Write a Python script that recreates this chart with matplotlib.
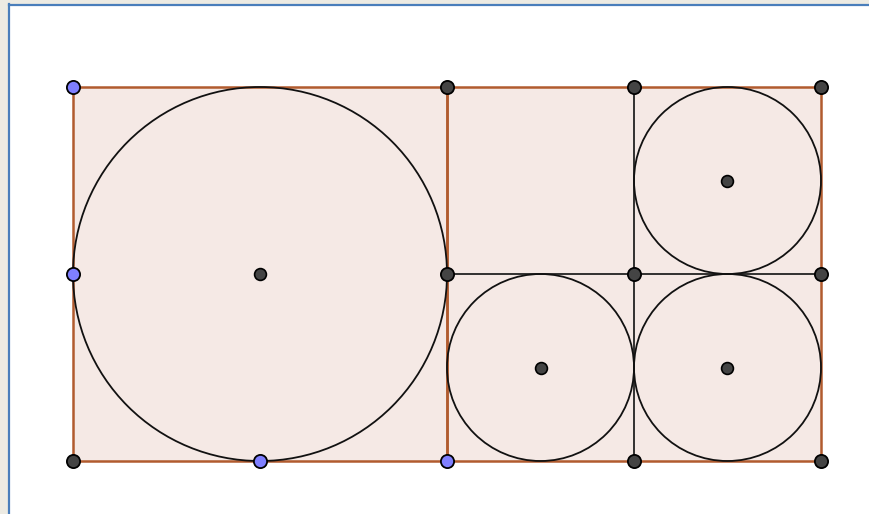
import matplotlib.pyplot as plt
from matplotlib.patches import Circle, Polygon, Rectangle

# geometry (unit = side of small square)
square_left = [(0, 0), (2, 0), (2, 2), (0, 2)]
square_right = [(2, 0), (4, 0), (4, 2), (2, 2)]
inner_lines = [((3, 0), (3, 2)), ((2, 1), (4, 1))]
circle_centers = [(1, 1), (2.5, 0.5), (3.5, 0.5), (3.5, 1.5)]
circle_radii = [1, 0.5, 0.5, 0.5]
free_points = [(0, 2), (0, 1), (1, 0), (2, 0)]
fixed_points = [(0, 0), (2, 2), (3, 2), (4, 2), (2, 1), (3, 1), (4, 1), (3, 0), (4, 0)]

W, H = 869, 514
fig = plt.figure(figsize=(W / 100, H / 100), dpi=100)
fig.patch.set_facecolor('white')

# window frame
fig.patches.append(Rectangle((0, 0), 8 / W, 1, transform=fig.transFigure, color='#edebe3', zorder=0))
fig.patches.append(Rectangle((0, 1 - 4 / H), 1, 4 / H, transform=fig.transFigure, color='#edebe3', zorder=0))
fig.lines.append(plt.Line2D([8.5 / W, 8.5 / W], [0, 1 - 4 / H], transform=fig.transFigure, color='#4a7ebb', lw=1.6))
fig.lines.append(plt.Line2D([8.5 / W, 1], [1 - 4.5 / H, 1 - 4.5 / H], transform=fig.transFigure, color='#4a7ebb', lw=1.6))

ax = fig.add_axes([0, 0, 1, 1])
ax.set_axis_off()
u = 187.0
ax.set_xlim(-73 / u, (W - 73) / u)
ax.set_ylim((461 - H) / u, 461 / u)

fill = '#f5e9e5'
edge = '#b15b2e'
for sq in [square_left, square_right]:
    ax.add_patch(Polygon(sq, closed=True, facecolor=fill, edgecolor='none', zorder=1))

for (a, b) in inner_lines:
    ax.plot([a[0], b[0]], [a[1], b[1]], color='#222222', lw=1.3, zorder=2)

for c, r in zip(circle_centers, circle_radii):
    ax.add_patch(Circle(c, r, fill=False, edgecolor='#111111', lw=1.3, zorder=3))

# brown polygon edges
for sq in [square_left, square_right]:
    ax.add_patch(Polygon(sq, closed=True, fill=False, edgecolor=edge, lw=1.8, zorder=2))

ax.plot([p[0] for p in fixed_points], [p[1] for p in fixed_points], 'o', ms=9.5,
        mfc='#444444', mec='black', mew=1.3, zorder=5)
ax.plot([p[0] for p in free_points], [p[1] for p in free_points], 'o', ms=9.5,
        mfc='#7f7fff', mec='black', mew=1.3, zorder=5)
ax.plot([c[0] for c in circle_centers], [c[1] for c in circle_centers], 'o', ms=8.5,
        mfc='#444444', mec='black', mew=1.2, zorder=5)

fig.savefig('out.png', dpi=100)
